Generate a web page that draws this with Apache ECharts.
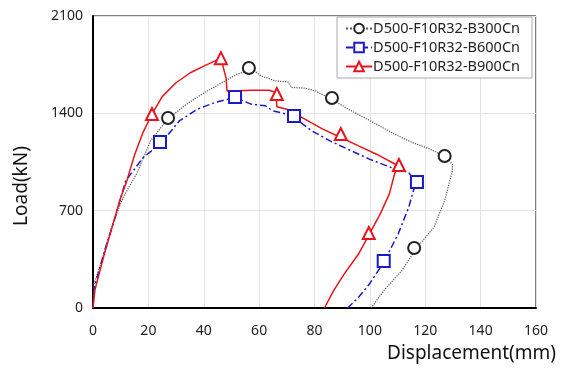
<!DOCTYPE html>
<html>
<head>
<meta charset="utf-8">
<script src="https://cdn.jsdelivr.net/npm/echarts@6/dist/echarts.min.js"></script>
<style>
  html, body { margin: 0; padding: 0; background: #fff; }
  #chart { width: 562px; height: 368px; }
</style>
</head>
<body>
<div id="chart"></div>
<script>
// series names
const names = ['D500-F10R32-B300Cn', 'D500-F10R32-B600Cn', 'D500-F10R32-B900Cn'];

// curves: [displacement mm, load kN]
const b300Curve = [
  [0, 0], [0.3, 170], [3, 330], [7, 600], [11, 800], [15.7, 963], [20.8, 1202], [26.9, 1358],
  [33.8, 1466], [40.3, 1550], [46.7, 1621], [51.9, 1681], [57.5, 1717], [60.7, 1669],
  [65.9, 1633], [70.4, 1626], [71.7, 1586], [76.5, 1581], [80.4, 1561], [86.5, 1497],
  [93.3, 1418], [102.4, 1322], [108.9, 1250], [115.3, 1190], [121.8, 1142], [127.4, 1087],
  [129.8, 1035], [129.8, 987], [127, 771], [123.1, 580], [116.6, 424], [111.5, 268],
  [105, 125], [100.5, 0]
];
const b600Curve = [
  [0, 0], [0.5, 150], [4, 400], [8, 650], [11.8, 915], [18, 1080], [24.5, 1183], [31.2, 1346],
  [37.7, 1430], [44.1, 1478], [51.3, 1514], [57.1, 1466], [62.3, 1454], [64.9, 1418],
  [70, 1394], [72.6, 1370], [79, 1274], [85.6, 1202], [92, 1142], [99.8, 1071],
  [107.6, 1011], [114, 975], [116.6, 903], [114, 723], [110.2, 532], [105, 328],
  [99.8, 172], [95.9, 77], [92, 0]
];
const b900Curve = [
  [0, 0], [0.7, 130], [4, 380], [9.7, 776], [12, 900], [15, 1100], [18, 1260], [21.3, 1395],
  [25, 1520], [30, 1620], [35, 1690], [40, 1740], [46.2, 1797], [47.2, 1720], [48.1, 1650],
  [48.4, 1560], [50.6, 1561], [57, 1566], [63.6, 1566], [66.1, 1550], [66.4, 1447],
  [70, 1430], [76.5, 1358], [83, 1286], [89.5, 1226], [95.9, 1166], [102.4, 1106],
  [110.2, 1023], [108.9, 963], [107, 819], [103.7, 675], [99.8, 532], [95.9, 388],
  [90.7, 244], [86.9, 125], [83.6, 0]
];

// marker positions
const b300Marks = [[27.1, 1366], [56.3, 1726], [86.3, 1510], [127, 1093], [116, 431]];
const b600Marks = [[24.2, 1194], [51.3, 1517], [72.6, 1380], [117, 906], [105, 338]];
const b900Marks = [[21.3, 1395], [46.2, 1797], [66.4, 1539], [89.5, 1251], [110.5, 1028], [99.6, 539]];

const xTicks = [0, 20, 40, 60, 80, 100, 120, 140, 160];
const yTicks = [0, 700, 1400, 2100];

const FONT = '"Noto Sans", sans-serif';

const styles = [
  { color: '#222', symbol: 'emptyCircle', line: { type: 'dotted', width: 1.2, color: '#555' } },
  { color: '#1a1acc', symbol: 'emptyRect', line: { type: [7, 3, 2, 3], width: 1.5, color: '#1a1acc' } },
  { color: '#e8141b', symbol: 'emptyTriangle', line: { type: 'solid', width: 1.5, color: '#e8141b' } }
];
const curves = [b300Curve, b600Curve, b900Curve];
const marks = [b300Marks, b600Marks, b900Marks];

const series = [];
names.forEach((n, i) => {
  series.push({
    name: n,
    type: 'line',
    data: curves[i],
    showSymbol: false,
    symbol: styles[i].symbol,
    symbolSize: 11,
    itemStyle: { color: styles[i].color, borderWidth: 1.5 },
    lineStyle: styles[i].line,
    z: 2
  });
});
names.forEach((n, i) => {
  series.push({
    name: n,
    type: 'scatter',
    data: marks[i],
    symbol: styles[i].symbol,
    symbolSize: 12,
    itemStyle: { color: styles[i].color, opacity: 1, borderWidth: 1.6 },
    z: 3
  });
});

const chart = echarts.init(document.getElementById('chart'));
chart.setOption({
  animation: false,
  textStyle: { fontFamily: FONT },
  grid: {
    left: 93, right: 26, top: 16, bottom: 60,
    show: true, borderColor: '#000', borderWidth: 1
  },
  legend: {
    data: names,
    orient: 'vertical',
    top: 17, right: 30,
    padding: [4, 12, 4, 8],
    itemGap: 4,
    itemWidth: 26,
    itemHeight: 12,
    backgroundColor: '#fff',
    borderColor: '#aaa',
    borderWidth: 1,
    borderRadius: 0,
    textStyle: { fontFamily: FONT, fontSize: 14.5, color: '#222', padding: [0, 0, 0, -4] }
  },
  xAxis: {
    type: 'value',
    min: 0, max: 160, interval: 20,
    axisLine: { show: true, lineStyle: { color: '#000', width: 2 } },
    axisTick: { show: false },
    splitLine: { show: true, lineStyle: { color: '#e3e3e3', width: 1 } },
    axisLabel: {
      fontFamily: FONT, fontSize: 14, color: '#222', margin: 16,
      formatter: v => xTicks.includes(v) ? String(v) : ''
    }
  },
  yAxis: {
    type: 'value',
    min: 0, max: 2100, interval: 700,
    axisLine: { show: true, lineStyle: { color: '#000', width: 2 } },
    axisTick: { show: false },
    splitLine: { show: true, lineStyle: { color: '#e3e3e3', width: 1 } },
    axisLabel: {
      fontFamily: FONT, fontSize: 14, color: '#222', margin: 10,
      formatter: v => yTicks.includes(v) ? String(v) : ''
    }
  },
  graphic: [
    {
      type: 'text', x: 22, y: 186, rotation: Math.PI / 2,
      style: { text: 'Load(kN)', font: '19px "Noto Sans", sans-serif', fill: '#111', align: 'center', verticalAlign: 'middle' }
    },
    {
      type: 'text', x: 556, y: 354,
      style: { text: 'Displacement(mm)', font: '19px "Noto Sans", sans-serif', fill: '#111', align: 'right', verticalAlign: 'middle' }
    }
  ],
  series: series
});
</script>
</body>
</html>
